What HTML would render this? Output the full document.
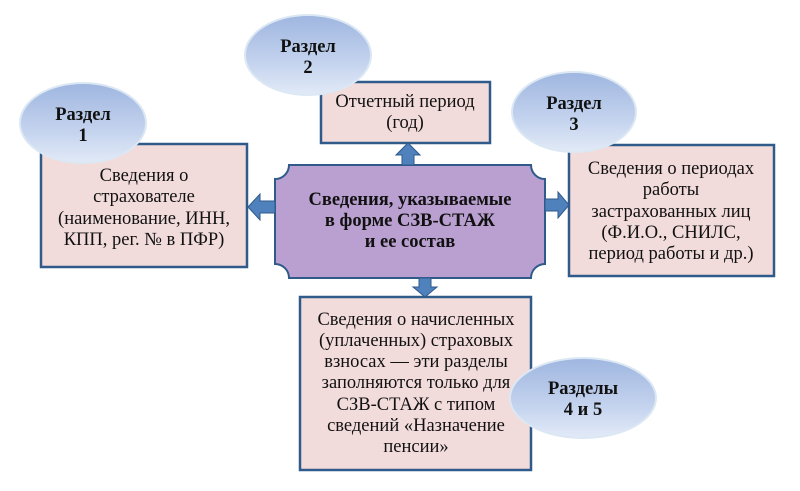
<!DOCTYPE html>
<html><head><meta charset="utf-8"><style>
html,body{margin:0;padding:0;background:#fff;}
svg{display:block;}
</style></head><body>
<svg width="800" height="491" viewBox="0 0 800 491" xmlns="http://www.w3.org/2000/svg">
<defs>
<linearGradient id="eg" x1="0" y1="0" x2="0" y2="1">
<stop offset="0" stop-color="#9fb6e0"/><stop offset="0.6" stop-color="#c4d3ee"/><stop offset="1" stop-color="#e2eaf7"/>
</linearGradient>
</defs>
<g fill="#f2dcdb" stroke="#2f5a8a" stroke-width="2.5">
<rect x="41" y="144" width="206" height="123"/>
<rect x="321" y="82" width="169" height="61"/>
<rect x="569" y="145" width="205" height="131"/>
<rect x="300" y="297" width="231" height="173"/>
</g>
<path d="M289,165 H531 A14,14 0 0 0 545,179 V264 A14,14 0 0 0 531,278 H289 A14,14 0 0 0 275,264 V179 A14,14 0 0 0 289,165 Z" fill="#b9a0d0" stroke="#2f5a8a" stroke-width="2"/>
<g fill="#4f81bd" stroke="#2f5a8a" stroke-width="1">
<path d="M275,201 H260 V194 L248,207 L260,220 V213 H275 Z"/>
<path d="M402,165 V155 H396 L408,143 L420,155 H414 V165 Z"/>
<path d="M545,199 H558 V192 L569,205 L558,218 V211 H545 Z"/>
<path d="M419,278 V287 H413 L425,297 L437,287 H431 V278 Z"/>
</g>
<g fill="url(#eg)" stroke="#dbe8f4" stroke-width="2">
<ellipse cx="83" cy="123" rx="63" ry="40"/>
<ellipse cx="308" cy="55" rx="63" ry="40"/>
<ellipse cx="574" cy="112" rx="62" ry="40"/>
<ellipse cx="583" cy="398" rx="73" ry="40"/>
</g>
<g font-family="'Liberation Serif', 'DejaVu Serif', serif" font-size="18.5" fill="#111" text-anchor="middle">
<g font-weight="bold">
<text x="83" y="120">Раздел</text><text x="83" y="141">1</text>
<text x="308" y="52">Раздел</text><text x="308" y="73">2</text>
<text x="574" y="109">Раздел</text><text x="574" y="130">3</text>
<text x="583" y="394">Разделы</text><text x="583" y="415">4 и 5</text>
<text x="410" y="205">Сведения, указываемые</text>
<text x="410" y="226">в форме СЗВ-СТАЖ</text>
<text x="410" y="247">и ее состав</text>
</g>
<text x="144" y="181">Сведения о</text>
<text x="144" y="202">страхователе</text>
<text x="144" y="224">(наименование, ИНН,</text>
<text x="144" y="245">КПП, рег. № в ПФР)</text>
<text x="405" y="107">Отчетный период</text>
<text x="405" y="128">(год)</text>
<text x="671" y="174">Сведения о периодах</text>
<text x="671" y="195">работы</text>
<text x="671" y="217">застрахованных лиц</text>
<text x="671" y="238">(Ф.И.О., СНИЛС,</text>
<text x="671" y="259">период работы и др.)</text>
<text x="416" y="325">Сведения о начисленных</text>
<text x="416" y="346">(уплаченных) страховых</text>
<text x="416" y="367">взносах — эти разделы</text>
<text x="416" y="388">заполняются только для</text>
<text x="416" y="410">СЗВ-СТАЖ с типом</text>
<text x="416" y="431">сведений «Назначение</text>
<text x="416" y="452">пенсии»</text>
</g>
</svg>
</body></html>
